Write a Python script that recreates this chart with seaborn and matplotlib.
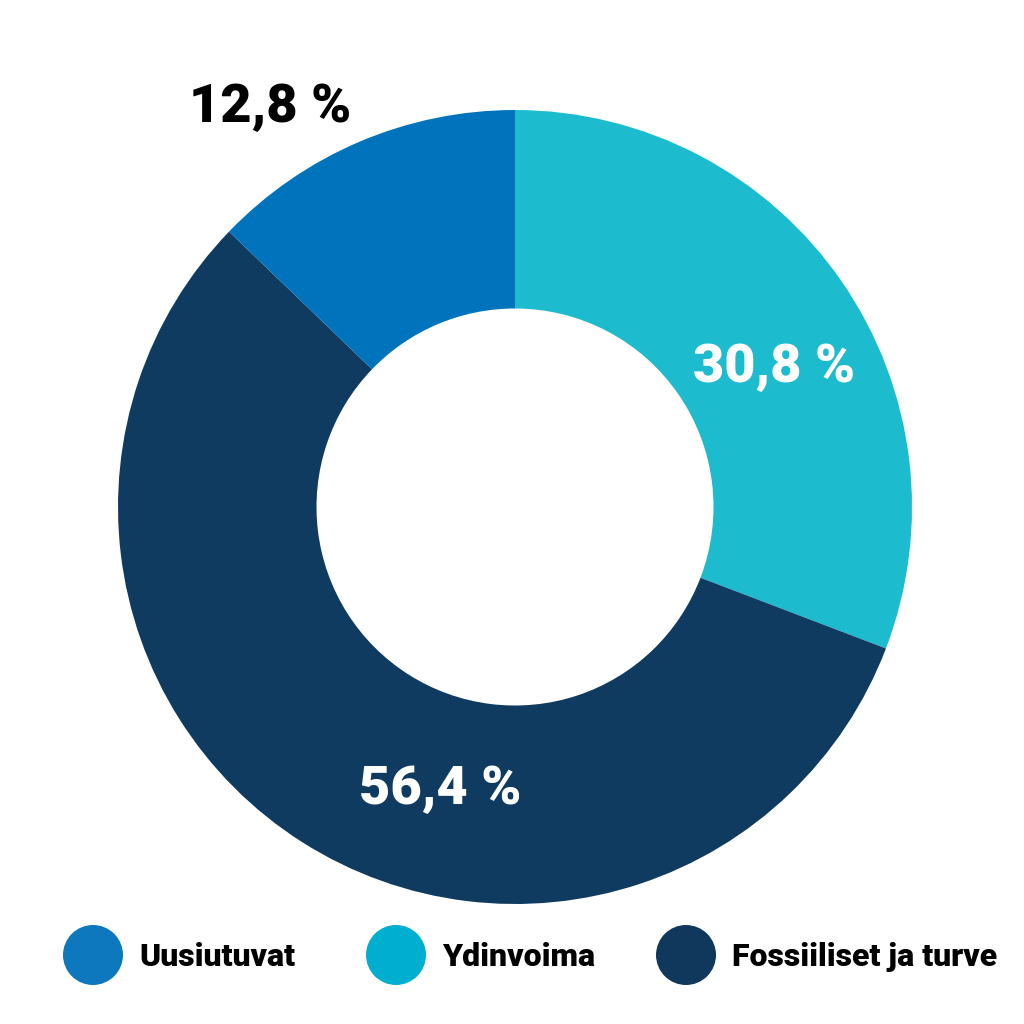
import matplotlib
matplotlib.use("Agg")
import matplotlib.pyplot as plt
import seaborn as sns
from matplotlib.patches import Circle

sns.set_theme(style="white")
plt.rcParams['font.family'] = ['Roboto', 'DejaVu Sans']

categories = ["Ydinvoima", "Fossiiliset ja turve", "Uusiutuvat"]
values = [30.8, 56.4, 12.8]
labels = ["30,8 %", "56,4 %", "12,8 %"]
colors = ["#1DBBCE", "#0F3B60", "#0073BD"]
legend_order = ["Uusiutuvat", "Ydinvoima", "Fossiiliset ja turve"]
legend_colors = ["#0E78BE", "#00AFCF", "#10385C"]

fig = plt.figure(figsize=(10.24, 10.24), dpi=100)
ax = fig.add_axes([0, 0, 1, 1])
ax.set_xlim(0, 1024)
ax.set_ylim(0, 1024)
ax.set_aspect("equal")
ax.axis("off")

cx, cy, R = 515, 1024 - 507, 397
ax.pie(values, colors=colors, startangle=90, counterclock=False,
       center=(cx, cy), radius=R,
       wedgeprops=dict(width=R * 0.5, linewidth=0))
ax.set_xlim(0, 1024)
ax.set_ylim(0, 1024)

label_pos = [(774, 368), (440, 790), (270, 107)]
label_col = ["white", "white", "black"]
for lab, (px, py), c in zip(labels, label_pos, label_col):
    ax.text(px, 1024 - py, lab, ha="center", va="center", fontsize=39,
            fontweight="heavy", color=c)

leg_x = [93, 396, 686]
for name, col, x in zip(legend_order, legend_colors, leg_x):
    ax.add_patch(Circle((x, 1024 - 955), 30, color=col, linewidth=0))
    ax.text(x + 46, 1024 - 957, name, ha="left", va="center", fontsize=23,
            fontweight="heavy", color="black")

fig.savefig("out.png", dpi=100, facecolor="white")
